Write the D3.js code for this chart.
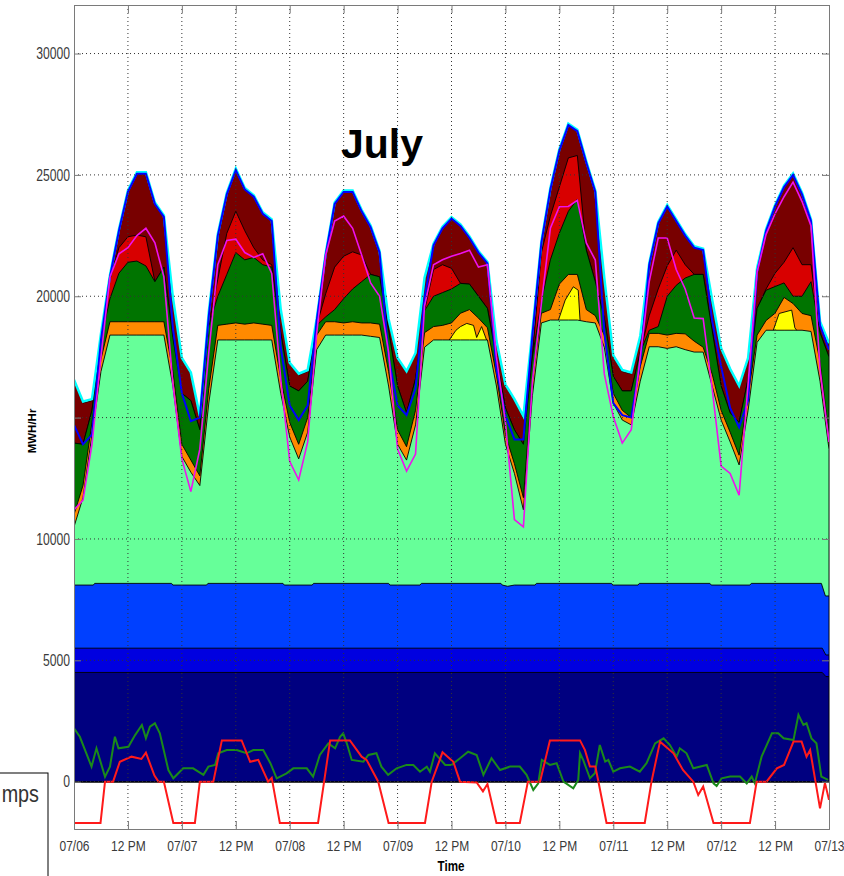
<!DOCTYPE html>
<html>
<head>
<meta charset="utf-8">
<script src="https://cdnjs.cloudflare.com/ajax/libs/d3/7.8.5/d3.min.js"></script>
<style>
  body { margin: 0; background: #fff; }
  svg { display: block; }
  .tick text { font-family: "Liberation Sans", Arial, sans-serif; fill: #3a3a3a; }
</style>
</head>
<body>
<div class="visholder"></div>
<script>
let width = 844,
    height = 876;

const plotLeft = 74, plotRight = 829, plotTop = 5, plotBottom = 829;

// time axis: hours since 07/06 00:00, sampled every 2 hours
const hours = d3.range(0, 169, 2);
const xTickHours = d3.range(0, 169, 12);
const xTickLabels = ["07/06", "12 PM", "07/07", "12 PM", "07/08", "12 PM", "07/09", "12 PM",
    "07/10", "12 PM", "07/11", "12 PM", "07/12", "12 PM", "07/13"];
const yTicks = [0, 5000, 10000, 15000, 20000, 25000, 30000];
// the 15000 label sits under the axis title in the original, so it is blank
const yTickLabels = ["0", "5000", "10000", "", "20000", "25000", "30000"];

// stacked layers, read as the top edge of each band (MWH/Hr)
const lightGreenTop = [10500, 11700, 14300, 16900, 18400, 18400, 18400, 18400, 18400, 18400, 18400, 16300,
    13400, 12750, 12200, 15600, 18200, 18200, 18200, 18200, 18200, 18200, 18200, 16000,
    14200, 13300, 14400, 17800, 18400, 18400, 18400, 18400, 18400, 18350, 18300, 16300,
    13900, 13250, 14700, 17900, 18200, 18200, 18200, 18200, 18200, 18200, 18200, 16300,
    13900, 12700, 11200, 15900, 18900, 19020, 19020, 19020, 19020, 18950, 18900, 17900,
    15600, 14900, 14700, 16500, 17920, 17920, 17850, 17920, 17800, 17700, 17700, 16300,
    14900, 14000, 13050, 15300, 18100, 18600, 18600, 18600, 18600, 18600, 18550, 16500, 13700];

const orangeTop = [11000, 12200, 14800, 17400, 18950, 18950, 18950, 18950, 18950, 18950, 18950, 16900,
    13900, 13250, 12600, 16200, 18800, 18850, 18900, 18850, 18900, 18850, 18800, 16600,
    14800, 13900, 15000, 18400, 18950, 18950, 18900, 18950, 18900, 18900, 18850, 16900,
    14500, 13800, 15300, 18500, 18750, 18800, 18900, 19300, 19450, 19100, 18700, 16750,
    14300, 13100, 11700, 16500, 19300, 19450, 20500, 20900, 20900, 19450, 19200, 18400,
    16000, 15300, 15000, 17100, 18470, 18470, 18400, 18470, 18450, 18150, 17900, 16800,
    15300, 14400, 13450, 15900, 18400, 19000, 19300, 19950, 19700, 19290, 19200, 17300, 14300];

const darkGreenTop = [13950, 13900, 15300, 18200, 19900, 20950, 21400, 21450, 21250, 20600, 21200, 18300,
    16000, 15700, 14500, 18800, 20000, 20900, 21800, 21500, 21600, 21300, 21200, 18500,
    16300, 16100, 16500, 18800, 19150, 19450, 19900, 20300, 20600, 20900, 20800, 18600,
    16300, 15200, 16600, 19400, 20000, 20150, 20300, 20530, 20500, 20000, 19500, 17450,
    15400, 14500, 13900, 17500, 19800, 21500, 22600, 23500, 24000, 21900, 20600, 19100,
    16700, 16100, 16100, 17700, 18600, 18750, 20000, 20450, 20750, 20900, 20900, 18600,
    16300, 15200, 14800, 16600, 19500, 20250, 20400, 20550, 20000, 20000, 20600, 18500, 17500];

const redTop = [13950, 13900, 15300, 18200, 20700, 22000, 22450, 22520, 22450, 20600, 21200, 18300,
    16000, 15700, 14500, 18800, 20700, 22590, 23500, 22700, 22000, 21500, 21300, 18500,
    16300, 16100, 16500, 18800, 20100, 21200, 21650, 21830, 21700, 20900, 20800, 18600,
    16300, 15200, 16600, 19400, 21100, 21300, 21150, 20530, 20500, 20000, 19500, 17450,
    15400, 14500, 13900, 17500, 21800, 23300, 24500, 25700, 25800, 21900, 20600, 19100,
    16700, 16100, 16100, 17700, 19200, 20300, 21250, 21900, 21300, 20900, 20900, 18600,
    16300, 15200, 14800, 16600, 19500, 20300, 20950, 21400, 22000, 21300, 21300, 18500, 17500];

const totalTop = [16500, 15600, 15700, 18400, 20800, 22700, 24300, 25050, 25050, 23800, 23270, 19900,
    17400, 16800, 15000, 19300, 22500, 24200, 25200, 24400, 24100, 23400, 23100, 19400,
    17200, 16750, 16900, 19000, 21700, 23800, 24300, 24300, 23500, 22850, 21800, 19000,
    17400, 16850, 17600, 20700, 22100, 22800, 23200, 22900, 22400, 21800, 21350, 18100,
    16300, 15700, 15000, 18500, 22200, 24400, 26000, 27050, 26800, 25500, 24300, 20700,
    17500, 16900, 16800, 18300, 21300, 23000, 23700, 23100, 22500, 22000, 21900, 19800,
    17800, 16950, 16250, 17400, 21100, 22700, 23700, 24500, 25000, 24200, 23100, 18900, 18000];

// yellow only shows in three short spells: [hour, top]
const yellowSpells = [
    [[83.5, 18200], [85, 18600], [86, 18750], [87.4, 18880], [88.9, 18800], [89.6, 18300], [90.7, 18750], [91.8, 18200]],
    [[107.8, 19020], [109.3, 19840], [111.1, 20390], [112.2, 20250], [112.6, 19020]],
    [[155.6, 18600], [156.9, 19290], [159.7, 19430], [160.4, 18700], [160.8, 18600]]
];

// flat base layers: [hour, top]
const navyTop = [[0, 4500], [166.5, 4500], [167.3, 4330], [168, 4330]];
const blueTop = [[0, 5500], [166.5, 5500], [167.3, 5220], [168, 5220]];
const brightBlueTop = [[0, 8100], [4.3, 8100], [4.6, 8170], [21.7, 8170], [22, 8100], [29.5, 8100], [29.8, 8170],
    [46.5, 8170], [46.8, 8100], [53, 8100], [53.3, 8170], [70, 8170], [70.3, 8100], [77, 8100], [77.3, 8170],
    [95, 8170], [95.3, 8100], [96.5, 8050], [98, 8100], [102.6, 8100], [102.9, 8170], [119.6, 8170], [119.9, 8100],
    [125.5, 8100], [125.8, 8170], [141.5, 8170], [141.8, 8100], [150.4, 8100], [150.7, 8170], [166.3, 8170],
    [167.2, 7650], [168, 7650]];

// overlaid lines
const blueLine = [14700, 13900, 14300, 18200, 20800, 22700, 24300, 25050, 25050, 23800, 23270, 18700,
    16000, 14850, 15000, 19200, 22500, 24200, 25200, 24400, 24100, 23400, 23100, 17900,
    15500, 14900, 15500, 19000, 21700, 23800, 24300, 24300, 23500, 22850, 21800, 17500,
    15500, 15100, 16200, 19900, 22100, 22800, 23200, 22900, 22400, 21800, 21350, 17000,
    15100, 14100, 14100, 18400, 22200, 24400, 26000, 27050, 26800, 25500, 24300, 18500,
    15600, 15100, 15000, 17300, 21300, 23000, 23700, 23100, 22500, 22000, 21900, 19000,
    17100, 15400, 14600, 15700, 21000, 22700, 23700, 24500, 25000, 24200, 23100, 18800, 17800];

const magentaLine = [11200, 11600, 13900, 17500, 20800, 21750, 22000, 22500, 22800, 22200, 20800, 16400,
    13300, 11950, 13700, 17700, 21300, 22300, 22350, 21800, 21600, 21750, 20940, 16600,
    13200, 12430, 14000, 18470, 21700, 23100, 23300, 22800, 21700, 20550, 20000, 17700,
    13700, 12800, 13500, 19600, 21300, 21500, 21650, 21760, 21900, 21200, 21300, 17500,
    14800, 10800, 10500, 16500, 19700, 22800, 23690, 23700, 23950, 22200, 21490, 16800,
    15030, 13950, 14500, 17500, 20600, 22400, 22400, 21100, 20300, 19100, 19080, 16200,
    13000, 12700, 11800, 16400, 21000, 22550, 23400, 24100, 24700, 23900, 22900, 17000, 14000];

const redLine = [[0, -1700], [5.9, -1700], [6.9, 0], [8.7, 0], [10.2, 820], [12.8, 1030], [15, 935], [16, 1195],
    [17.9, 250], [18.8, 0], [20, 0], [22.1, -1700], [26.9, -1700], [28, 0], [31, 0], [32.9, 1700], [37.3, 1700],
    [39.2, 820], [41, 900], [43.2, 0], [44, 160], [45.8, -1700], [54.3, -1700], [57, 1700], [61.4, 1700],
    [64, 1030], [65.1, 900], [67.7, 0], [70, -1700], [78.1, -1700], [79.6, 0], [82, 1210], [84.4, 820],
    [85.9, 0], [89.6, -30], [91, -400], [92, -100], [94, -1700], [99.2, -1700], [101, 0], [103.7, 0],
    [105.9, 1700], [112.6, 1700], [113.7, 1300], [114.8, 620], [116, 620], [116.7, 0], [118.5, -1700],
    [127, -1700], [128.5, 0], [130.4, 1650], [133.4, 1170], [135.5, 480], [137.8, 0], [138.9, -550],
    [140, -200], [142.3, -1700], [150.4, -1700], [151.9, 0], [154.1, 0], [156.4, 550], [158, 690],
    [160.1, 1650], [161.9, 1650], [163, 1030], [163.8, 1306], [166, -1100], [167.1, -50], [168, -750]];

const greenLine = [[0, 2200], [1.3, 1850], [3.9, 620], [5, 1375], [6.9, 206], [8, 620], [9.1, 1850], [9.9, 1375],
    [12.1, 1440], [13.6, 1920], [15.1, 2335], [16, 1785], [16.9, 2270], [18, 2405], [19.1, 1990], [21, 480],
    [22.1, 140], [24.3, 550], [26.5, 550], [28.8, 280], [29.9, 620], [31.4, 690], [32.1, 1170], [34, 1305],
    [36.2, 1305], [38.4, 1170], [39.9, 1305], [42.1, 1305], [43.7, 760], [45.1, 140], [47.3, 345], [48.8, 550],
    [51.8, 550], [53.2, 206], [54.7, 1100], [56.6, 1580], [58.1, 1375], [59.2, 1850], [59.9, 1990], [60.7, 1580],
    [61.8, 895], [64.4, 825], [65.5, 1100], [67.3, 1170], [68.4, 620], [69.9, 280], [71.8, 550], [74, 690],
    [75.5, 690], [77, 410], [78.5, 620], [79.2, 410], [80.3, 1170], [82.6, 690], [84, 690], [85.9, 965],
    [87.7, 1235], [89.6, 1100], [91.1, 280], [92.9, 965], [94.8, 480], [97, 620], [99.2, 620], [100.7, 280],
    [102.2, -340], [103.3, -70], [104.1, 895], [105.9, 690], [107.4, 760], [108.9, 0], [111.1, -275],
    [112.2, 70], [112.6, 1170], [113.3, 895], [114.8, 140], [115.9, 345], [117, 1510], [118.2, 825],
    [118.9, 895], [120, 410], [121.5, 550], [123.7, 620], [125.9, 410], [127.4, 760], [129.3, 1580],
    [131.2, 1785], [132.6, 1510], [134.1, 1030], [134.8, 1375], [136.3, 1170], [137.8, 550], [140.8, 690],
    [142.3, -70], [143, -180], [144.1, 140], [146, 210], [148.2, 210], [149.7, -70], [150.8, 210], [151.5, -70],
    [153, 1030], [155.3, 1990], [156.7, 1990], [157.9, 1785], [160.1, 1715], [161.2, 2750], [162.3, 2335],
    [163, 2405], [164.1, 1785], [165.2, 1580], [166.3, 210], [167.8, 70]];

const colors = {
    darkRed: "#780000",
    red: "#d80000",
    darkGreen: "#007400",
    orange: "#ff8a00",
    yellow: "#ffff00",
    lightGreen: "#66ff99",
    brightBlue: "#0040ff",
    blue: "#0000e0",
    navy: "#000080"
};

var svg = d3.select(".visholder")
    .append("svg")
    .attr("width", width)
    .attr("height", height);

svg.append("rect").attr("width", width).attr("height", height).attr("fill", "#fff");

var x = d3.scaleLinear().domain([0, 168]).range([plotLeft, plotRight]);
var y = d3.scaleLinear().domain([-1950, 32000]).range([plotBottom, plotTop]);

svg.append("clipPath").attr("id", "plotclip")
    .append("rect")
    .attr("x", plotLeft).attr("y", plotTop)
    .attr("width", plotRight - plotLeft).attr("height", plotBottom - plotTop);

var plot = svg.append("g").attr("clip-path", "url(#plotclip)");

function onGrid(arr) {
    return hours.map(function (h, i) { return [h, arr[i]]; });
}

var area = d3.area()
    .x(function (d) { return x(d[0]); })
    .y0(y(0))
    .y1(function (d) { return y(d[1]); });

var line = d3.line()
    .x(function (d) { return x(d[0]); })
    .y(function (d) { return y(d[1]); });

// painted top band first, lower bands over it
var layers = [
    { data: onGrid(totalTop), color: colors.darkRed },
    { data: onGrid(redTop), color: colors.red },
    { data: onGrid(darkGreenTop), color: colors.darkGreen },
    { data: onGrid(orangeTop), color: colors.orange }
];
yellowSpells.forEach(function (s) { layers.push({ data: s, color: colors.yellow }); });
layers.push(
    { data: onGrid(lightGreenTop), color: colors.lightGreen },
    { data: brightBlueTop, color: colors.brightBlue },
    { data: blueTop, color: colors.blue },
    { data: navyTop, color: colors.navy }
);

plot.selectAll(".layer")
    .data(layers)
    .enter()
    .append("path")
    .attr("class", "layer")
    .attr("d", function (d) { return area(d.data); })
    .attr("fill", function (d) { return d.color; })
    .attr("stroke", "#000")
    .attr("stroke-width", 0.9)
    .attr("stroke-linejoin", "round");

// outline of the total
plot.append("path")
    .attr("d", line(onGrid(totalTop)))
    .attr("transform", "translate(0,-1.5)")
    .attr("fill", "none")
    .attr("stroke", "#00ffff")
    .attr("stroke-width", 2.5);

plot.append("path")
    .attr("d", line(onGrid(blueLine)))
    .attr("fill", "none")
    .attr("stroke", "#0000ff")
    .attr("stroke-width", 2);

plot.append("path")
    .attr("d", line(onGrid(magentaLine)))
    .attr("fill", "none")
    .attr("stroke", "#ee11ee")
    .attr("stroke-width", 1.6);

plot.append("path")
    .attr("d", line(greenLine))
    .attr("fill", "none")
    .attr("stroke", "#1a8a1a")
    .attr("stroke-width", 2);

plot.append("path")
    .attr("d", line(redLine))
    .attr("fill", "none")
    .attr("stroke", "#ff1a1a")
    .attr("stroke-width", 2);

// dotted grid
var grid = svg.append("g").attr("stroke", "#333").attr("stroke-width", 1).attr("stroke-dasharray", "1,3");
grid.selectAll(".vgrid")
    .data(xTickHours.slice(1, -1))
    .enter()
    .append("line")
    .attr("x1", function (d) { return x(d); })
    .attr("x2", function (d) { return x(d); })
    .attr("y1", plotTop)
    .attr("y2", plotBottom);
grid.selectAll(".hgrid")
    .data(yTicks)
    .enter()
    .append("line")
    .attr("x1", plotLeft)
    .attr("x2", plotRight)
    .attr("y1", function (d) { return y(d); })
    .attr("y2", function (d) { return y(d); });

// axes with inward ticks; labels squeezed sideways like the original's narrow face
var xAxis = d3.axisBottom(x)
    .tickValues(xTickHours)
    .tickSize(-8)
    .tickPadding(11)
    .tickFormat(function (d, i) { return xTickLabels[i]; });

var yAxis = d3.axisLeft(y)
    .tickValues(yTicks)
    .tickSize(-7)
    .tickPadding(4)
    .tickFormat(function (d, i) { return yTickLabels[i]; });

svg.append("g")
    .attr("class", "x axis")
    .attr("transform", `translate(0,${plotBottom})`)
    .call(xAxis)
    .call(function (g) {
        g.selectAll("text")
            .style("font-size", "15px")
            .attr("transform", "scale(0.8,1)");
    });

svg.append("g")
    .attr("class", "y axis")
    .attr("transform", `translate(${plotLeft},0)`)
    .call(yAxis)
    .call(function (g) {
        g.selectAll("text")
            .style("font-size", "16px")
            .attr("x", -5.3)
            .attr("transform", "scale(0.76,1)");
    });

svg.append("g")
    .attr("transform", `translate(0,${plotTop})`)
    .call(d3.axisTop(x).tickValues(xTickHours).tickSize(-8).tickFormat(""));

svg.append("g")
    .attr("transform", `translate(${plotRight},0)`)
    .call(d3.axisRight(y).tickValues(yTicks).tickSize(-7).tickFormat(""));

svg.selectAll(".domain, .tick line").attr("stroke", "#7a7a7a");

// titles
svg.append("text")
    .attr("x", 382)
    .attr("y", 158)
    .attr("text-anchor", "middle")
    .style("font-family", "Liberation Sans, Arial, sans-serif")
    .style("font-weight", "bold")
    .style("font-size", "41px")
    .text("July");

svg.append("text")
    .attr("transform", "translate(36,431) rotate(-90)")
    .attr("text-anchor", "middle")
    .style("font-family", "Liberation Sans, Arial, sans-serif")
    .style("font-weight", "bold")
    .style("font-size", "11.5px")
    .text("MWH/Hr");

svg.append("text")
    .attr("transform", "translate(451,871) scale(0.83,1)")
    .attr("text-anchor", "middle")
    .style("font-family", "Liberation Sans, Arial, sans-serif")
    .style("font-weight", "bold")
    .style("font-size", "14px")
    .text("Time");

// legend fragment at the lower left
svg.append("rect")
    .attr("x", -2)
    .attr("y", 773)
    .attr("width", 50)
    .attr("height", 130)
    .attr("fill", "#fff")
    .attr("stroke", "#000")
    .attr("stroke-width", 1);

svg.append("text")
    .attr("transform", "translate(39,802) scale(0.86,1)")
    .attr("text-anchor", "end")
    .style("font-family", "Liberation Sans, Arial, sans-serif")
    .style("font-size", "23px")
    .style("fill", "#333")
    .text("mps");
</script>
</body>
</html>
